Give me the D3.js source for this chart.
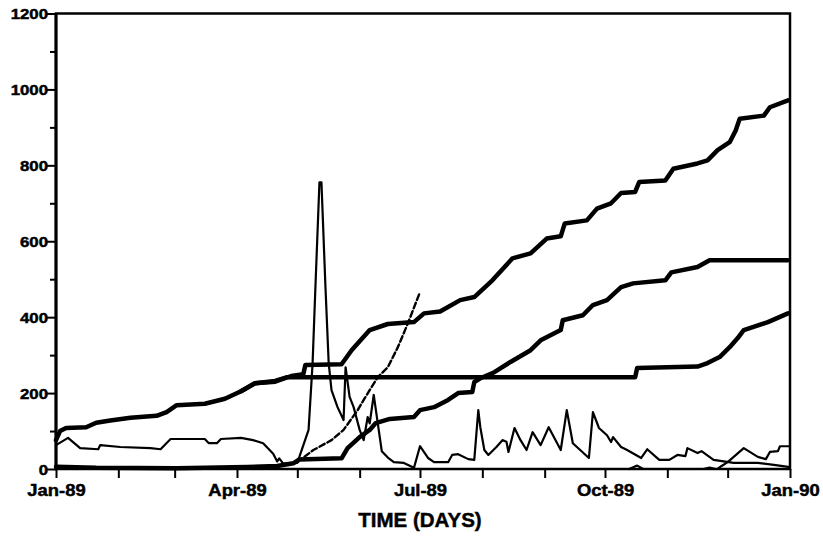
<!DOCTYPE html>
<html>
<head>
<meta charset="utf-8">
<script src="https://cdn.jsdelivr.net/npm/d3@7/dist/d3.min.js"></script>
<style>
  html, body { margin: 0; padding: 0; background: #fff; }
  svg { display: block; }
  text { font-family: "Liberation Sans", Arial, sans-serif; font-weight: bold; fill: #000; stroke: #000; stroke-width: 0.45px; }
</style>
</head>
<body>
<svg id="chart" width="823" height="536"></svg>
<script>
// ---- data (day offset from 1 Jan 1989, value) ----
const startDate = new Date(1989, 0, 1);
const endDate = new Date(1990, 0, 1);
const yMajorTicks = [0, 200, 400, 600, 800, 1000, 1200];
const yMinorTicks = [100, 300, 500, 700, 900, 1100];
const xLabelMonths = { 0: "Jan-89", 3: "Apr-89", 6: "Jul-89", 9: "Oct-89" };
const xEndLabel = "Jan-90";
const xTitle = "TIME (DAYS)";

// thick cumulative line (top)
const seriesA = [[0,76],[2,100],[5,108],[15,110],[20,122],[27,128],[37,135],[50,140],[55,150],[60,168],
  [74,172],[84,185],[92,205],[99,226],[109,230],[117,245],[123,250],[124,274],[142,276],[147,313],
  [156,366],[165,382],[178,387],[183,410],[191,415],[201,445],[208,453],[217,497],[227,555],[236,568],
  [244,607],[251,613],[253,647],[264,655],[269,686],[276,700],[281,727],[288,730],[290,756],[303,760],
  [307,791],[319,805],[324,813],[329,840],[335,861],[338,892],[340,923],[352,931],[355,953],[364,971]];

// thick cumulative line (flattening at 550)
const seriesB = [[0,6],[20,3],[60,2],[95,5],[110,8],[118,15],[121,25],[142,28],[145,55],[151,84],
  [156,103],[159,121],[166,132],[178,137],[181,155],[188,163],[195,182],[200,200],[207,203],[208,229],
  [211,239],[218,255],[226,282],[236,313],[241,339],[251,366],[252,392],[262,405],[267,432],[274,445],
  [281,479],[287,489],[303,497],[306,518],[319,532],[325,550],[364,550]];

// thick line flat near 240, rising at year end
const seriesC = [[92,205],[99,226],[109,232],[115,242],[288,242],[289,266],[319,270],[324,279],
  [330,295],[335,321],[339,345],[342,366],[354,387],[364,410]];

// thin spiky line
const seriesD = [[0,63],[6,82],[12,55],[21,52],[22,63],[32,58],[47,55],[52,52],[57,79],[74,79],[76,68],
  [80,68],[82,79],[92,82],[98,76],[103,68],[108,40],[110,20],[111,28],[113,14],[120,16],[125.6,103],
  [127.6,279],[129,479],[131,755],[132,755],[134,479],[135.6,279],[137,208],[140,163],[143,129],[144,268],
  [146,190],[148,163],[151,103],[153,76],[155,137],[156,120],[158,195],[160,121],[162,47],[165,30],
  [168,18],[173,16],[178,3],[181,60],[185,29],[188,18],[195,18],[197,37],[200,39],[205,26],[208,24],
  [210,155],[211,110],[213,50],[215,37],[219,58],[222,76],[224,72],[225,45],[228,108],[231,76],[234,50],
  [237,97],[241,63],[245,110],[251,50],[254,155],[257,68],[265,29],[267,150],[270,108],[274,89],[276,71],
  [277,84],[281,58],[284,50],[291,29],[294,52],[300,24],[305,24],[309,37],[313,34],[314,55],[319,42],
  [321,47],[327,24],[337,16],[349,16],[357,11],[365,5]];

// dashed rising line (ends early July)
const seriesE = [[120,18],[128,50],[137,76],[143,103],[150,155],[153,182],[160,242],[165,268],
  [170,321],[175,384],[181,466]];

// thin line at year end
const seriesF = [[285,0],[289,9],[292,0],[322,0],[325,4],[328,0],[329,0],[331,8],[334,18],[337,32],
  [342,55],[345,45],[349,32],[353,26],[355,45],[359,47],[360,60],[365,60]];

// ---- drawing ----
const svg = d3.select("#chart");
const plotLeft = 56, plotRight = 790, plotTop = 13.5, plotBottom = 469;

const toDate = d => new Date(startDate.getTime() + d * 864e5);
const x = d3.scaleTime().domain([startDate, endDate]).range([plotLeft, plotRight]);
const y = d3.scaleLinear().domain([0, 1200]).range([plotBottom, plotTop]);

const line = d3.line().x(d => x(toDate(d[0]))).y(d => y(d[1])).curve(d3.curveLinear);

const plot = svg.append("g");
function drawSeries(data, width, dash) {
  plot.append("path").datum(data)
    .attr("d", line)
    .attr("fill", "none")
    .attr("stroke", "#000")
    .attr("stroke-width", width)
    .attr("stroke-linejoin", "round")
    .attr("stroke-linecap", "round")
    .attr("stroke-dasharray", dash || null);
}
drawSeries(seriesD, 2.2);
drawSeries(seriesF, 2.2);
drawSeries(seriesE, 2.4, "6,3");
drawSeries(seriesC, 4.5);
drawSeries(seriesB, 4.5);
drawSeries(seriesA, 4.5);

// frame
svg.append("rect")
  .attr("x", plotLeft).attr("y", plotTop)
  .attr("width", plotRight - plotLeft).attr("height", plotBottom - plotTop)
  .attr("fill", "none").attr("stroke", "#000").attr("stroke-width", 2.5);
svg.append("line").attr("x1", plotLeft).attr("x2", plotLeft).attr("y1", plotTop).attr("y2", plotBottom)
  .attr("stroke", "#000").attr("stroke-width", 3);

// x axis
const xAxis = d3.axisBottom(x)
  .ticks(d3.timeMonth.every(1))
  .tickSize(9)
  .tickFormat(d => {
    if (d.getFullYear() === 1990) return xEndLabel;
    return xLabelMonths[d.getMonth()] || "";
  });
const gx = svg.append("g").attr("transform", `translate(0,${plotBottom})`).call(xAxis);
gx.select(".domain").remove();
gx.selectAll(".tick line").attr("stroke", "#000").attr("stroke-width", 2);
gx.selectAll(".tick text")
  .attr("y", 0).attr("dy", null)
  .attr("transform", "translate(0,27) scale(1.15,1)")
  .style("font-size", "16px")
  .style("font-family", "'Liberation Sans', Arial, sans-serif")
  .style("font-weight", "bold")
  .attr("fill", "#000");

// y axis minor
const gyMinor = svg.append("g").attr("transform", `translate(${plotLeft},0)`)
  .call(d3.axisLeft(y).tickValues(yMinorTicks).tickSize(6).tickFormat(""));
gyMinor.select(".domain").remove();
gyMinor.selectAll(".tick line").attr("stroke", "#000").attr("stroke-width", 2);

// y axis major
const gyMajor = svg.append("g").attr("transform", `translate(${plotLeft},0)`)
  .call(d3.axisLeft(y).tickValues(yMajorTicks).tickSize(9).tickFormat(d3.format("d")));
gyMajor.select(".domain").remove();
gyMajor.selectAll(".tick line").attr("stroke", "#000").attr("stroke-width", 2);
gyMajor.selectAll(".tick text")
  .attr("x", 0).attr("dy", null)
  .attr("transform", "translate(-8,5) scale(1.2,1)")
  .attr("text-anchor", "end")
  .style("font-size", "14px")
  .style("font-family", "'Liberation Sans', Arial, sans-serif")
  .style("font-weight", "bold")
  .attr("fill", "#000");

// title
svg.append("text")
  .attr("x", (plotLeft + plotRight) / 2 - 3)
  .attr("y", 527)
  .attr("text-anchor", "middle")
  .style("font-size", "20.5px")
  .text(xTitle);
</script>
</body>
</html>
